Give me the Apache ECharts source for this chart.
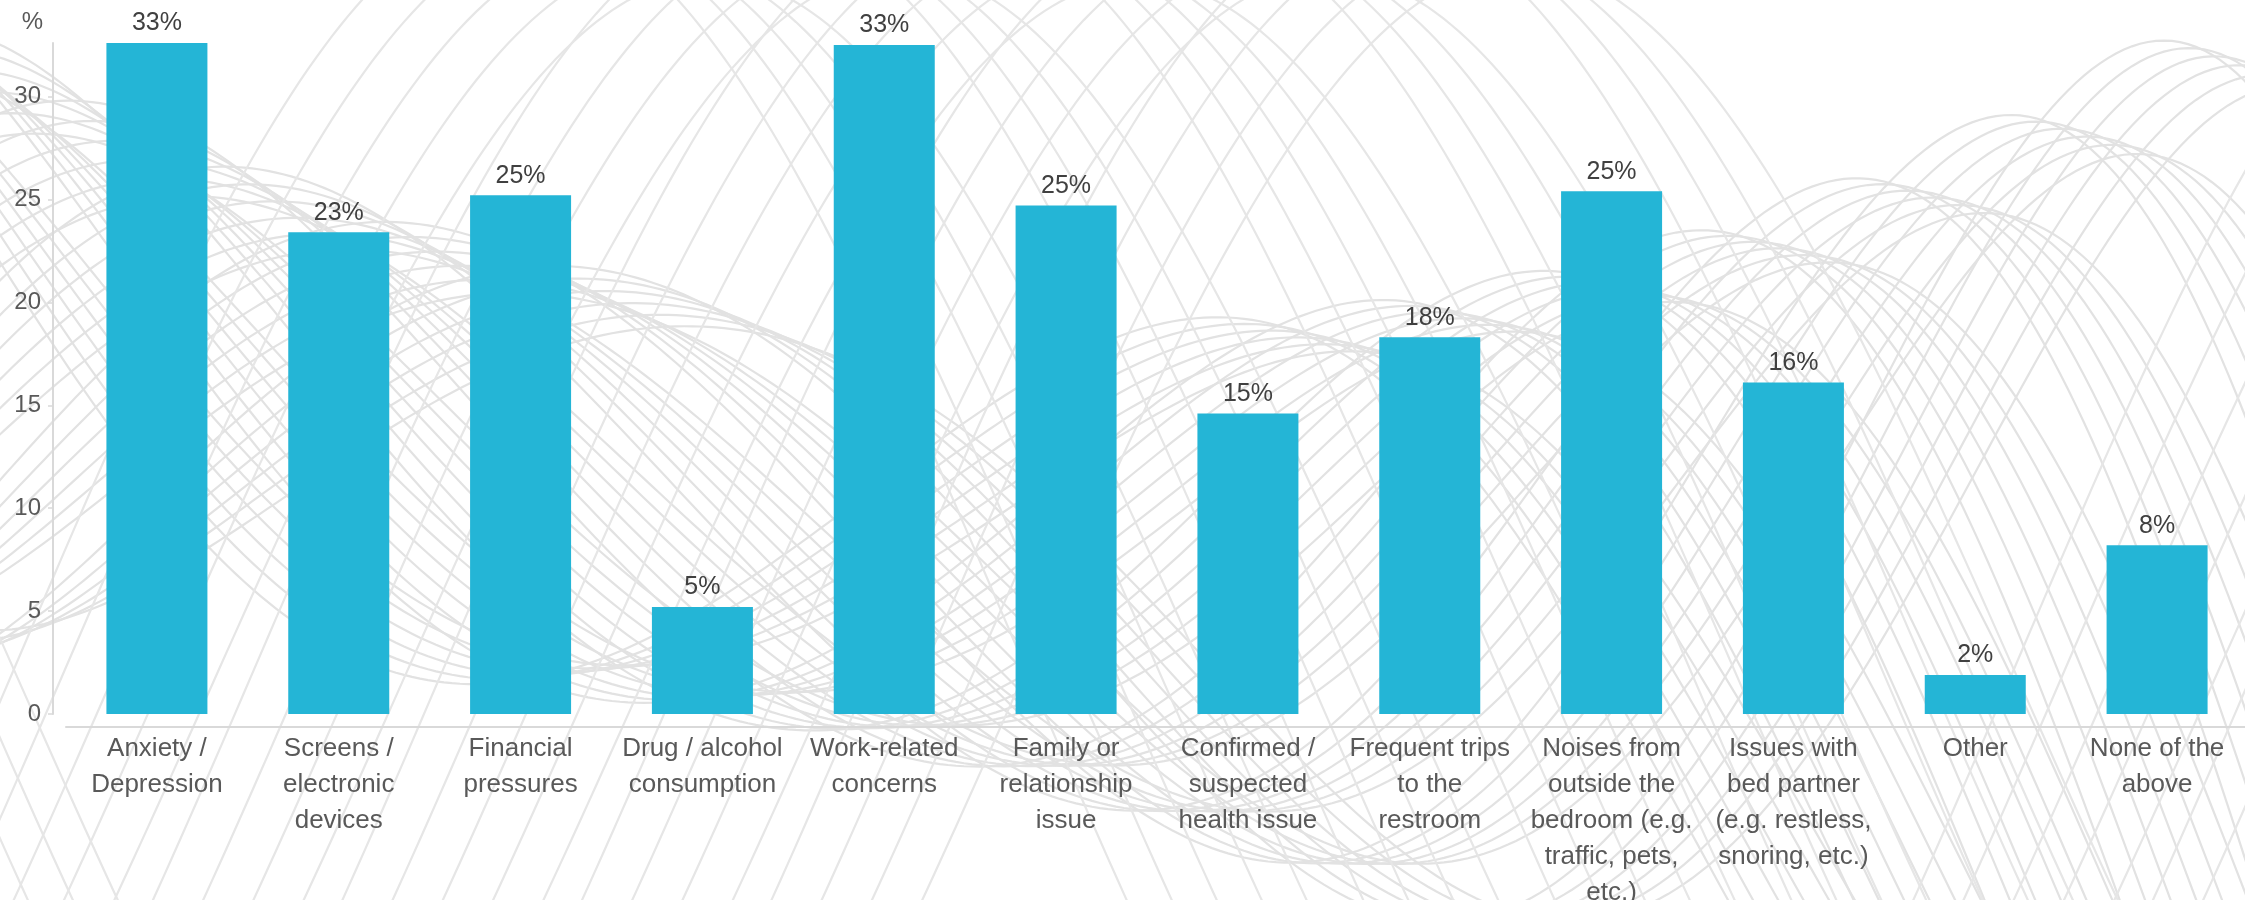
<!DOCTYPE html>
<html>
<head>
<meta charset="utf-8">
<title>Sleep disruptors</title>
<script src="https://cdn.jsdelivr.net/npm/echarts@6/dist/echarts.min.js"></script>
<style>
  html, body { margin: 0; padding: 0; background: #ffffff; }
  #chart { width: 2245px; height: 900px; }
</style>
</head>
<body>
<div id="chart"></div>
<script>
// Reasons given for losing sleep (% of respondents)
const categories = [
  'Anxiety /\nDepression',
  'Screens /\nelectronic\ndevices',
  'Financial\npressures',
  'Drug / alcohol\nconsumption',
  'Work-related\nconcerns',
  'Family or\nrelationship\nissue',
  'Confirmed /\nsuspected\nhealth issue',
  'Frequent trips\nto the\nrestroom',
  'Noises from\noutside the\nbedroom (e.g.\ntraffic, pets,\netc.)',
  'Issues with\nbed partner\n(e.g. restless,\nsnoring, etc.)',
  'Other',
  'None of the\nabove'
];
const shares = [32.6, 23.4, 25.2, 5.2, 32.5, 24.7, 14.6, 18.3, 25.4, 16.1, 1.9, 8.2];
const yTicks = [0, 5, 10, 15, 20, 25, 30];
const yMax = 32.6;

// Decorative backdrop: two sheaves of phase-shifted waves in light grey.
function quad(p0, p1, p2) {
  return x => {
    const l0 = ((x - p1[0]) * (x - p2[0])) / ((p0[0] - p1[0]) * (p0[0] - p2[0]));
    const l1 = ((x - p0[0]) * (x - p2[0])) / ((p1[0] - p0[0]) * (p1[0] - p2[0]));
    const l2 = ((x - p0[0]) * (x - p1[0])) / ((p2[0] - p0[0]) * (p2[0] - p1[0]));
    return p0[1] * l0 + p1[1] * l1 + p2[1] * l2;
  };
}
function waveLine(fn, width, stroke) {
  const pts = [];
  for (let x = -20; x <= width + 20; x += 8) pts.push([x, fn(x)]);
  return {
    type: 'polyline',
    silent: true,
    z: 0,
    shape: { points: pts },
    style: { stroke: stroke, lineWidth: 2.2, fill: null }
  };
}
function backdrop(width) {
  const els = [];
  // sheaf whose crests gather in a band rising towards the top-right corner
  const upper = quad([50, 90], [900, 330], [2245, 30]);
  const lower = quad([0, 660], [850, 730], [2245, 1350]);
  const omega = 2 * Math.PI / 1500;
  const N = 42;
  for (let k = 0; k < N; k++) {
    const t = k / (N - 1);
    const phi = -1.55 + 4.37 * t;
    const ampScale = 0.9 + 0.2 * (((k * 7) % N) / (N - 1));
    els.push(waveLine(x => {
      const c = (upper(x) + lower(x)) / 2;
      const amp = (lower(x) - upper(x)) / 2 * ampScale;
      return c - amp * Math.sin(omega * x + phi);
    }, width, '#e2e2e2'));
  }
  // tall arches crossing the upper middle, their feet well below the frame
  const omega2 = 2 * Math.PI / 2000;
  const M = 22;
  for (let k = 0; k < M; k++) {
    const t = k / (M - 1);
    const crestX = 520 + 1000 * t;
    const phi = Math.PI / 2 - omega2 * crestX;
    const top = -90 + 70 * (((k * 5) % M) / (M - 1));
    const base = 1400;
    els.push(waveLine(x => {
      const amp = (base - top) / 2;
      return (base + top) / 2 - amp * Math.sin(omega2 * x + phi);
    }, width, '#e6e6e6'));
  }
  return els;
}

const chart = echarts.init(document.getElementById('chart'), null, { renderer: 'canvas' });

chart.setOption({
  backgroundColor: '#ffffff',
  animation: false,
  textStyle: { fontFamily: '"Liberation Sans", Arial, sans-serif' },
  graphic: { elements: backdrop(2245) },
  grid: { left: 66, right: -3, top: 43, bottom: 186, containLabel: false, outerBoundsMode: 'none' },
  xAxis: {
    type: 'category',
    data: categories,
    offset: 13,
    axisLine: { show: true, onZero: false, lineStyle: { color: '#d9d9d9', width: 2 } },
    axisTick: { show: false },
    axisLabel: {
      interval: 0,
      margin: 4,
      color: '#595959',
      fontSize: 26,
      lineHeight: 36,
      align: 'center'
    },
    splitLine: { show: false }
  },
  yAxis: {
    type: 'value',
    min: 0,
    max: yMax,
    offset: 13,
    name: '%',
    nameLocation: 'end',
    nameGap: 21,
    nameTextStyle: { color: '#595959', fontSize: 24, align: 'right', verticalAlign: 'middle', padding: [0, 10, 0, 0] },
    axisLine: { show: true, onZero: false, lineStyle: { color: '#d9d9d9', width: 2 } },
    axisTick: { show: true, length: 5, customValues: yTicks, lineStyle: { color: '#d9d9d9', width: 1.5 } },
    axisLabel: { customValues: yTicks, color: '#595959', fontSize: 24, margin: 12 },
    splitLine: { show: false }
  },
  series: [{
    type: 'bar',
    data: shares,
    barWidth: 101,
    itemStyle: { color: '#24b5d6' },
    label: {
      show: true,
      position: 'top',
      distance: 7,
      color: '#404040',
      fontSize: 25,
      formatter: p => Math.round(p.value) + '%'
    }
  }]
});
</script>
</body>
</html>
